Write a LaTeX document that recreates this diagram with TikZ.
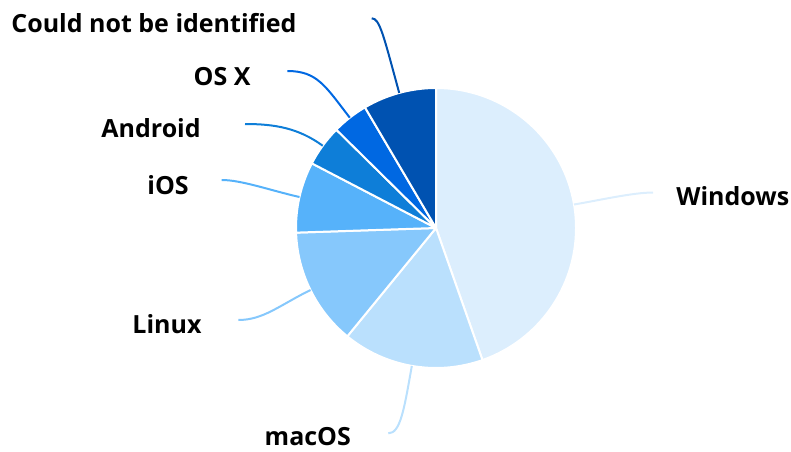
\documentclass[tikz,border=0pt]{standalone}
\usepackage{fontspec}
\setmainfont{Open Sans}
\usepackage{tikz}

\definecolor{winblue}{HTML}{DCEEFD}
\definecolor{macblue}{HTML}{BAE0FD}
\definecolor{linblue}{HTML}{86C8FC}
\definecolor{iosblue}{HTML}{56B2FA}
\definecolor{andblue}{HTML}{0E7ED8}
\definecolor{osxblue}{HTML}{0068E2}
\definecolor{unkblue}{HTML}{0052B1}

\tikzset{
  slice/.style={draw=white, line width=2pt, line join=round},
  leader/.style={line width=2pt},
  oslabel/.style={font=\bfseries\fontsize{25}{29}\selectfont, anchor=base west, inner sep=0pt}
}

\begin{document}
\begin{tikzpicture}[x=1pt,y=1pt]

\useasboundingbox (0,0) rectangle (791,451);

% Centre of the pie
\coordinate (c) at (436,223);

% Slices
\filldraw[slice, fill=winblue] (c) -- ++(90:140pt) arc[start angle=90, end angle=-70.6, radius=140pt] -- cycle;
\filldraw[slice, fill=macblue] (c) -- ++(-70.6:140pt) arc[start angle=-70.6, end angle=-129.3, radius=140pt] -- cycle;
\filldraw[slice, fill=linblue] (c) -- ++(-129.3:140pt) arc[start angle=-129.3, end angle=-178.1, radius=140pt] -- cycle;
\filldraw[slice, fill=iosblue] (c) -- ++(181.9:140pt) arc[start angle=181.9, end angle=152.5, radius=140pt] -- cycle;
\filldraw[slice, fill=andblue] (c) -- ++(152.5:140pt) arc[start angle=152.5, end angle=135.4, radius=140pt] -- cycle;
\filldraw[slice, fill=osxblue] (c) -- ++(135.4:140pt) arc[start angle=135.4, end angle=120.5, radius=140pt] -- cycle;
\filldraw[slice, fill=unkblue] (c) -- ++(120.5:140pt) arc[start angle=120.5, end angle=90, radius=140pt] -- cycle;

% Leader ends
\coordinate (win-a) at (574,246.5);
\coordinate (win-b) at (653,258.5);
\coordinate (mac-a) at (411.8,85);
\coordinate (mac-b) at (388.3,17.7);
\coordinate (lin-a) at (310.5,161);
\coordinate (lin-b) at (238.3,131);
\coordinate (ios-a) at (299.5,254);
\coordinate (ios-b) at (221.7,271);
\coordinate (and-a) at (322.7,305.3);
\coordinate (and-b) at (245,327);
\coordinate (osx-a) at (349.8,333.3);
\coordinate (osx-b) at (287.3,380);
\coordinate (unk-a) at (399.2,358.1);
\coordinate (unk-b) at (371.7,432.7);

% Leaders
\draw[leader, winblue] (win-a) .. controls (598,250.5) and (633,258.5) .. (win-b);
\draw[leader, macblue] (mac-a) .. controls (404,40.8) and (400.3,17.7) .. (mac-b);
\draw[leader, linblue] (lin-a) .. controls (279.1,145.5) and (263.3,131) .. (lin-b);
\draw[leader, iosblue] (ios-a) .. controls (270.2,260.6) and (241.7,271) .. (ios-b);
\draw[leader, andblue] (and-a) .. controls (298.4,322.9) and (275,327) .. (and-b);
\draw[leader, osxblue] (osx-a) .. controls (325.4,364.8) and (317.3,380) .. (osx-b);
\draw[leader, unkblue] (unk-a) .. controls (383.4,416) and (379.7,432.7) .. (unk-b);

% Labels
\node[oslabel] (win) at (676.2,246) {Windows};
\node[oslabel] (mac) at (264.5,5.2) {macOS};
\node[oslabel] (lin) at (132.2,117.7) {Linux};
\node[oslabel] (ios) at (147.2,257) {iOS};
\node[oslabel] (and) at (101.2,313.7) {Android};
\node[oslabel] (osx) at (193.5,366) {OS X};
\node[oslabel] (unk) at (11.2,418.3) {Could not be identified};

\end{tikzpicture}
\end{document}
